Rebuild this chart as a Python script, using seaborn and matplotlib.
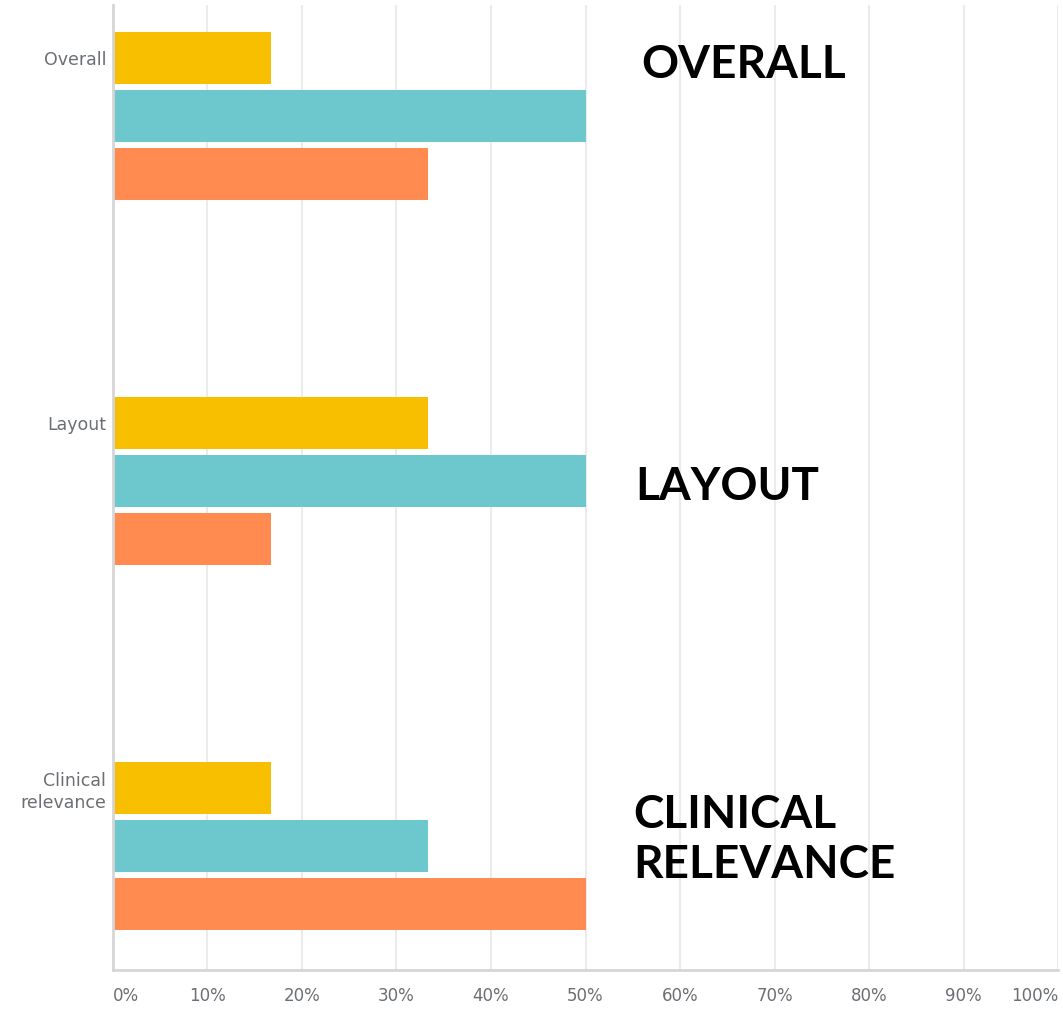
import matplotlib
matplotlib.use("Agg")
import matplotlib.pyplot as plt
import seaborn as sns
import pandas as pd

# Survey results: share of responses per aspect (percent)
categories = ["Overall", "Layout", "Clinical\nrelevance"]
series = ["Option 1", "Option 2", "Option 3"]
option1 = [16.67, 33.33, 16.67]
option2 = [50.0, 50.0, 33.33]
option3 = [33.33, 16.67, 50.0]
section_titles = ["OVERALL", "LAYOUT", "CLINICAL\nRELEVANCE"]
x_ticks = [0, 10, 20, 30, 40, 50, 60, 70, 80, 90, 100]
x_tick_labels = [f"{t}%" for t in x_ticks]
palette = ["#F8BE00", "#6CC8CC", "#FF8B50"]

rows = []
for name, vals in zip(series, [option1, option2, option3]):
    for cat, v in zip(categories, vals):
        rows.append({"category": cat, "series": name, "value": v})
df = pd.DataFrame(rows)

sns.set_theme(style="white")
fig = plt.figure(figsize=(10.63, 10.09), dpi=100)
ax = fig.add_axes([0.1063, 0.0387, 0.8890, 0.9563])

width = 0.477
sns.barplot(data=df, x="value", y="category", hue="series", order=categories,
            hue_order=series, palette=palette, saturation=1, orient="h",
            width=width, gap=0.1, linewidth=0, edgecolor="none",
            legend=False, ax=ax)

ax.set_xlim(0, 100)
ax.set_ylim(2.34, -0.304)

# x axis
ax.set_xticks(x_ticks)
ax.set_xticklabels(x_tick_labels, fontsize=12, color="#6b6f73")
labels = ax.get_xticklabels()
labels[0].set_horizontalalignment("left")
labels[-1].set_horizontalalignment("right")
ax.tick_params(axis="x", length=0, pad=12)
ax.xaxis.grid(True, color="#ebebeb", linewidth=1.5)
ax.set_axisbelow(True)

# category labels sit beside the first bar of each group
slot = width / len(series)
ax.set_yticks([i - slot for i in range(len(categories))])
ax.set_yticklabels(categories, fontsize=12.5, color="#6b6f73", ha="right",
                   multialignment="right", linespacing=1.3)
ax.tick_params(axis="y", length=0, pad=5)

ax.set_xlabel("")
ax.set_ylabel("")
for side in ["top", "right"]:
    ax.spines[side].set_visible(False)
ax.spines["left"].set_color("#d6d6d6")
ax.spines["left"].set_linewidth(2)
ax.spines["bottom"].set_color("#d6d6d6")
ax.spines["bottom"].set_linewidth(2)

# section headings
title_pos = [(55.9, -0.14), (55.3, 1.016), (55.1, 1.984)]
for txt, (x, y) in zip(section_titles, title_pos):
    ax.text(x, y, txt, fontsize=33, fontweight="bold", color="black",
            family=["Lato", "DejaVu Sans"], ha="left", va="center",
            linespacing=1.25)

fig.savefig("out.png", dpi=100)
